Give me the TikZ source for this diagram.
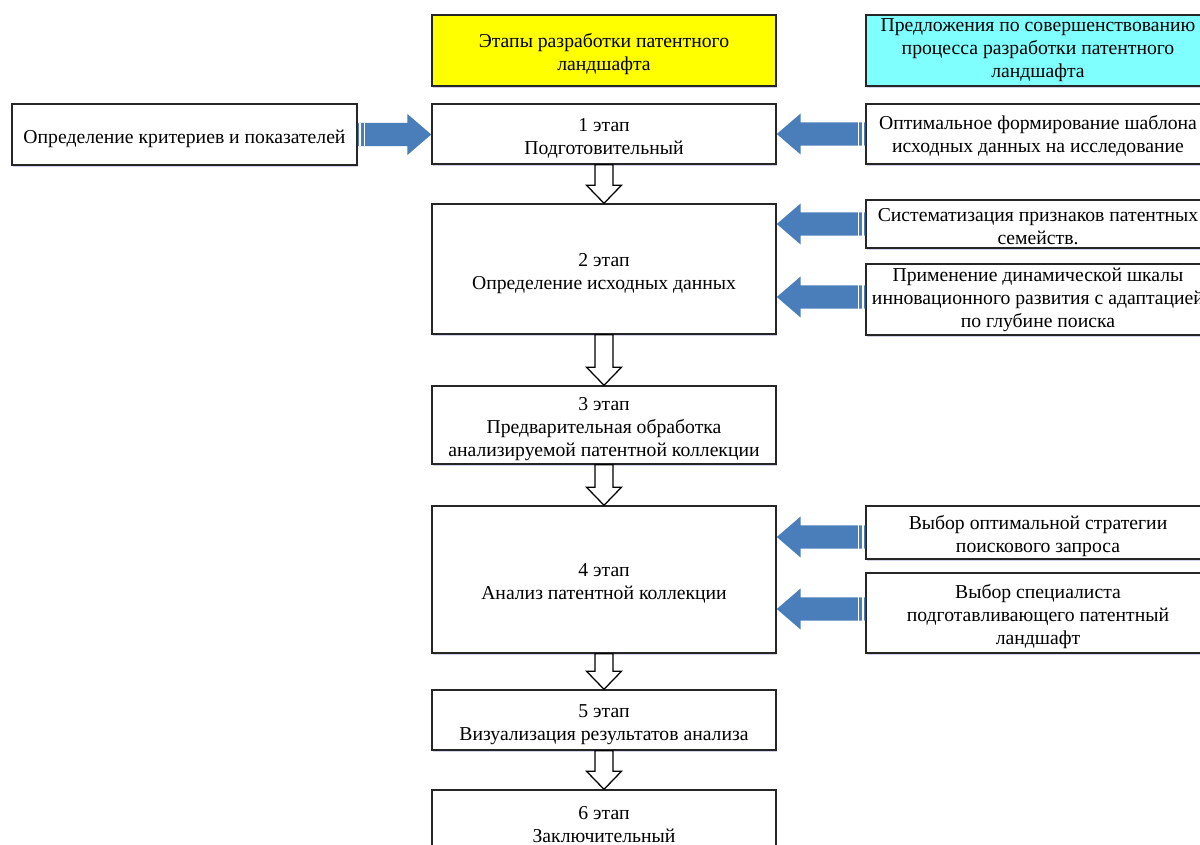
\documentclass[tikz,border=0pt]{standalone}
\usepackage{fontspec}
\setmainfont{Liberation Serif}
\usetikzlibrary{calc,shadows}
\definecolor{arrowblue}{HTML}{4A7EBB}
\definecolor{boxline}{HTML}{262626}
\definecolor{headyellow}{HTML}{FFFF00}
\definecolor{headcyan}{HTML}{80FFFF}
\newcommand\firstline{\rule{0pt}{15.2pt}}
\newcommand\halfline{\rule{0pt}{12.4pt}}
\tikzset{
  stagebox/.style={draw=boxline,line width=1pt,fill=white,minimum width=8.6cm,inner sep=0pt,
    align=center,font=\fontsize{14}{16.4}\selectfont,
    drop shadow={shadow xshift=1pt,shadow yshift=-1.5pt,fill=blue!40!gray,opacity=0.25}},
  hollow/.style={draw=black,line width=0.9pt,fill=white,line join=miter},
  stripe/.style={draw=white,line width=0.8pt}
}
% hollow block arrow from the bottom of one box to the top of the next
\newcommand\hollowdown[2]{%
  \filldraw[hollow] let \p1=(#1.south), \p2=(#2.north) in
    ({\x1-6.4pt},\y1) -- ({\x1-6.4pt},{\y2+12.8pt}) -- ({\x1-12.4pt},{\y2+12.8pt}) -- (\x1,\y2)
    -- ({\x1+12.4pt},{\y2+12.8pt}) -- ({\x1+6.4pt},{\y2+12.8pt}) -- ({\x1+6.4pt},\y1) -- cycle;}
% striped blue block arrow, tail at #1, tip on the side #2
\newcommand\bluearrow[2]{%
  \fill[arrowblue] let \p1=(#1), \p2=(#2), \n1={ifthenelse(\x2>\x1,1,-1)} in
    (\x1,{\y1+8.2pt}) -- ({\x2-\n1*17pt},{\y1+8.2pt}) -- ({\x2-\n1*17pt},{\y1+14.6pt}) -- (\x2,\y1)
    -- ({\x2-\n1*17pt},{\y1-14.6pt}) -- ({\x2-\n1*17pt},{\y1-8.2pt}) -- (\x1,{\y1-8.2pt}) -- cycle;
  \draw[stripe] let \p1=(#1), \p2=(#2), \n1={ifthenelse(\x2>\x1,1,-1)} in
    ({\x1+\n1*1.6pt},{\y1+8.2pt}) -- ({\x1+\n1*1.6pt},{\y1-8.2pt})
    ({\x1+\n1*4.6pt},{\y1+8.2pt}) -- ({\x1+\n1*4.6pt},{\y1-8.2pt});}
\begin{document}
\begin{tikzpicture}[x=0.025cm,y=-0.025cm]
  \clip (0,0) rectangle (1200,845);
  \fill[white] (0,0) rectangle (1200,845);

  \node[stagebox,fill=headyellow,minimum height=1.775cm] (stages) at (604,50.5) {\firstline Этапы разработки патентного\\ландшафта};
  \node[stagebox,fill=headcyan,minimum height=1.775cm] (proposals) at (1038,50.5) {Предложения по совершенствованию\\процесса разработки патентного\\ландшафта};

  \node[stagebox,minimum width=8.625cm,minimum height=1.525cm] (crit) at (184.5,134.5) {\firstline Определение критериев и показателей};

  \node[stagebox,minimum height=1.5cm] (s1) at (604,134) {\firstline 1 этап\\Подготовительный};
  \node[stagebox,minimum height=3.25cm] (s2) at (604,269) {\firstline 2 этап\\Определение исходных данных};
  \node[stagebox,minimum height=1.95cm] (s3) at (604,425) {\firstline 3 этап\\Предварительная обработка\\анализируемой патентной коллекции};
  \node[stagebox,minimum height=3.675cm] (s4) at (604,579.5) {\firstline 4 этап\\Анализ патентной коллекции};
  \node[stagebox,minimum height=1.5cm] (s5) at (604,720) {\firstline 5 этап\\Визуализация результатов анализа};
  \node[stagebox,minimum height=1.5cm] (s6) at (604,820) {\firstline 6 этап\\Заключительный};

  \node[stagebox,minimum height=1.5cm] (r1) at (1038,134) {\halfline Оптимальное формирование шаблона\\исходных данных на исследование};
  \node[stagebox,minimum height=1.2cm] (r2a) at (1038,224) {\halfline Систематизация признаков патентных\\семейств.};
  \node[stagebox,minimum height=1.775cm] (r2b) at (1038,299.5) {Применение динамической шкалы\\инновационного развития с адаптацией\\по глубине поиска};
  \node[stagebox,minimum height=1.325cm] (r4a) at (1038,532.5) {\firstline Выбор оптимальной стратегии\\поискового запроса};
  \node[stagebox,minimum height=2cm] (r4b) at (1038,613) {\firstline Выбор специалиста\\подготавливающего патентный\\ландшафт};

  \hollowdown{s1}{s2}
  \hollowdown{s2}{s3}
  \hollowdown{s3}{s4}
  \hollowdown{s4}{s5}
  \hollowdown{s5}{s6}

  \bluearrow{crit.east}{s1.west}
  \bluearrow{r1.west}{s1.east}
  \bluearrow{r2a.west}{s2.east}
  \bluearrow{$(r2b.west)+(0,-2.5)$}{s2.east}
  \bluearrow{$(r4a.west)+(0,4.5)$}{s4.east}
  \bluearrow{$(r4b.west)+(0,-4)$}{s4.east}
\end{tikzpicture}
\end{document}
